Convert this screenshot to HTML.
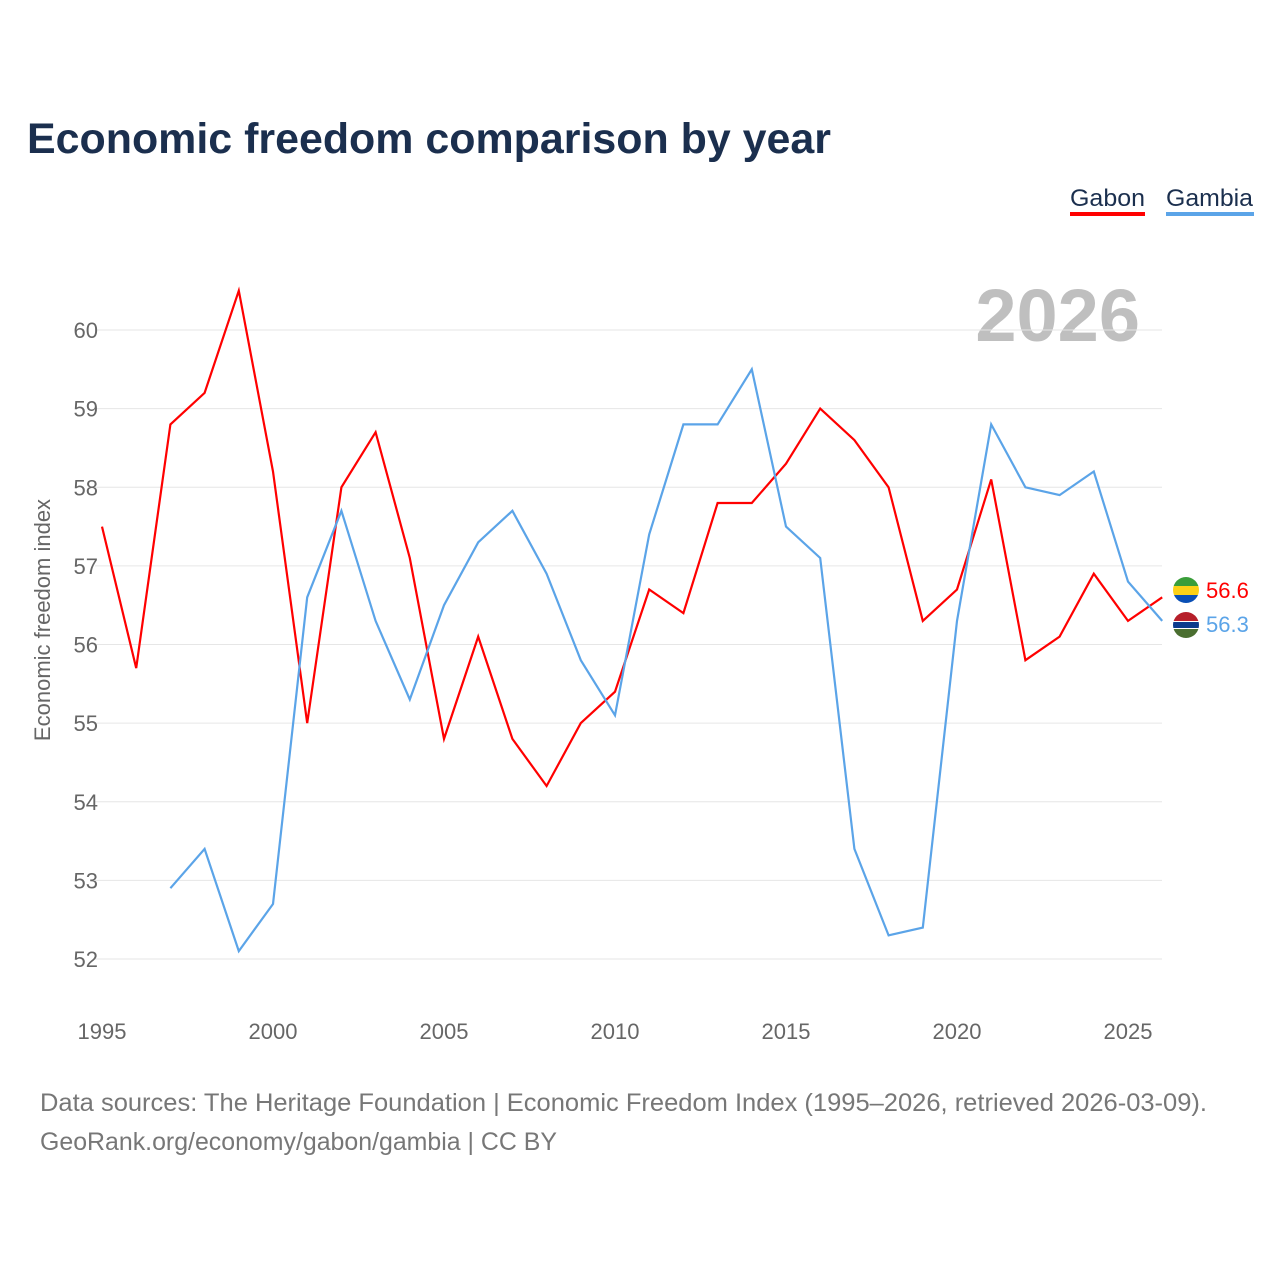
<!DOCTYPE html>
<html><head><meta charset="utf-8"><style>
body{margin:0;background:#fff;width:1280px;height:1280px;overflow:hidden;font-family:"Liberation Sans",sans-serif}
</style></head><body>
<svg width="1280" height="1280" xmlns="http://www.w3.org/2000/svg">
<text x="27" y="153" font-size="43" font-weight="bold" fill="#1b2f4e" textLength="804" lengthAdjust="spacingAndGlyphs">Economic freedom comparison by year</text>
<g>
<text x="1070" y="206" font-size="24" fill="#1b2f4e" textLength="75" lengthAdjust="spacingAndGlyphs">Gabon</text>
<rect x="1070" y="212" width="75" height="4" fill="#ff0000"/>
<text x="1166" y="206" font-size="24" fill="#1b2f4e" textLength="87" lengthAdjust="spacingAndGlyphs">Gambia</text>
<rect x="1166" y="212" width="88" height="4" fill="#5ba4e8"/>
</g>
<text x="1140" y="341" font-size="74" font-weight="bold" fill="#bfbfbf" text-anchor="end">2026</text>
<g id="grid"></g><g id="yt"></g><g id="xt"></g><g id="lines"></g>
<text transform="translate(50,620) rotate(-90)" font-size="22" fill="#666" text-anchor="middle">Economic freedom index</text>
<g>
<defs>
<clipPath id="c1"><circle cx="1186" cy="590" r="13"/></clipPath>
<clipPath id="c2"><circle cx="1186" cy="625" r="13"/></clipPath>
</defs>
<g clip-path="url(#c1)">
<rect x="1173" y="577" width="26" height="9" fill="#3a9e3a"/><rect x="1173" y="586" width="26" height="9" fill="#fcd116"/><rect x="1173" y="595" width="26" height="9" fill="#0a4fb5"/></g>
<g clip-path="url(#c2)">
<rect x="1173" y="612" width="26" height="9" fill="#b61f2a"/><rect x="1173" y="621" width="26" height="8" fill="#fff"/><rect x="1173" y="622" width="26" height="6" fill="#0a3a8c"/><rect x="1173" y="629" width="26" height="9" fill="#4a6e30"/></g>
<text x="1206" y="598" font-size="22" fill="#ff0000">56.6</text>
<text x="1206" y="632" font-size="22" fill="#5ba4e8">56.3</text>
</g>
<text x="40" y="1111" font-size="25" fill="#777" textLength="1167" lengthAdjust="spacingAndGlyphs">Data sources: The Heritage Foundation | Economic Freedom Index (1995–2026, retrieved 2026-03-09).</text>
<text x="40" y="1150" font-size="25" fill="#777" textLength="517" lengthAdjust="spacingAndGlyphs">GeoRank.org/economy/gabon/gambia | CC BY</text>
</svg>
<script>
const years=[1995,1996,1997,1998,1999,2000,2001,2002,2003,2004,2005,2006,2007,2008,2009,2010,2011,2012,2013,2014,2015,2016,2017,2018,2019,2020,2021,2022,2023,2024,2025,2026];
const gabon=[57.5,55.7,58.8,59.2,60.5,58.2,55.0,58.0,58.7,57.1,54.8,56.1,54.8,54.2,55.0,55.4,56.7,56.4,57.8,57.8,58.3,59.0,58.6,58.0,56.3,56.7,58.1,55.8,56.1,56.9,56.3,56.6];
const gambia=[null,null,52.9,53.4,52.1,52.7,56.6,57.7,56.3,55.3,56.5,57.3,57.7,56.9,55.8,55.1,57.4,58.8,58.8,59.5,57.5,57.1,53.4,52.3,52.4,56.3,58.8,58.0,57.9,58.2,56.8,56.3];
const yTicks=[52,53,54,55,56,57,58,59,60];
const xTicks=[1995,2000,2005,2010,2015,2020,2025];
const NS="http://www.w3.org/2000/svg";
const X=y=>102+(y-1995)*34.2;
const Y=v=>959-(v-52)*78.625;
function mk(t,a,p){const e=document.createElementNS(NS,t);for(const k in a)e.setAttribute(k,a[k]);document.getElementById(p).appendChild(e);return e;}
yTicks.forEach(v=>{
 const l=mk('line',{x1:95,x2:1162,y1:Y(v),y2:Y(v),stroke:'#e6e6e6','stroke-width':1},'grid');
 
 
 const t=mk('text',{x:98,y:Y(v)+8,'font-size':22,fill:'#666','text-anchor':'end'},'yt');
 t.textContent=v;
 
 
});
xTicks.forEach(v=>{
 const t=mk('text',{x:X(v),y:1039,'font-size':22,fill:'#666','text-anchor':'middle'},'xt');
 t.textContent=v;
 
 
});
function path(vals){let d='',pen=false;vals.forEach((v,i)=>{if(v==null){pen=false;return;}d+=(pen?'L':'M')+X(years[i]).toFixed(1)+','+Y(v).toFixed(1);pen=true;});return d;}
const g1=mk('path',{d:path(gabon),fill:'none',stroke:'#ff0000','stroke-width':2.2},'lines');


const g2=mk('path',{d:path(gambia),fill:'none',stroke:'#5ba4e8','stroke-width':2.2},'lines');


</script>
</body></html>
